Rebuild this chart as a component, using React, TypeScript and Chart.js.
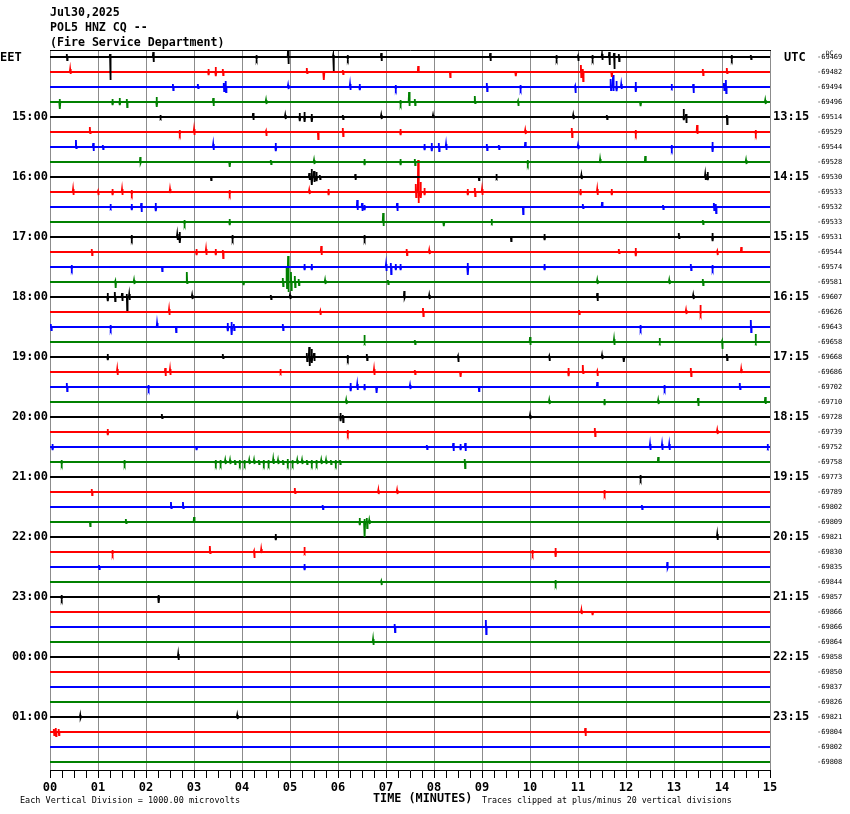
import React, { useEffect, useRef } from 'react';
import { Chart, registerables } from 'chart.js';
Chart.register(...registerables);

// ---- axis / label data ----
const MINUTE_LABELS = ['00','01','02','03','04','05','06','07','08','09','10','11','12','13','14','15'];
const LABEL_ROWS = [4, 8, 12, 16, 20, 24, 28, 32, 36, 40, 44];
const EET_LABELS = ['15:00','16:00','17:00','18:00','19:00','20:00','21:00','22:00','23:00','00:00','01:00'];
const UTC_LABELS = ['13:15','14:15','15:15','16:15','17:15','18:15','19:15','20:15','21:15','22:15','23:15'];
const DC_VALUES = [
  -69469, -69482, -69494, -69496, -69514, -69529, -69544, -69528,
  -69530, -69533, -69532, -69533, -69531, -69544, -69574, -69581,
  -69607, -69626, -69643, -69658, -69668, -69686, -69702, -69710,
  -69728, -69739, -69752, -69758, -69773, -69789, -69802, -69809,
  -69821, -69830, -69835, -69844, -69857, -69866, -69866, -69864,
  -69858, -69850, -69837, -69826, -69821, -69804, -69802, -69808,
];
const TRACE_COLORS = ['#000000', '#ff0000', '#0000ff', '#008000'];
const ROW_UNITS = 15; // vertical units between successive trace baselines

// ---- trace events: [minute, amplitude up, amplitude down] per row, grouped per hour ----
type Ev = [number, number, number];
const HOUR_14: Ev[][] = [
  [[0.35,3,3],[1.25,3,23],[2.15,5,5],[4.3,2,2],[4.96,9,7],[5.9,2,14],[6.2,2,2],[6.9,4,4],[9.17,4,4],[10.55,2,2],[11.0,1,4],[11.3,2,2],[11.5,3,3],[11.65,5,8],[11.75,4,12],[11.85,3,4],[14.2,2,2],[14.6,2,2]],
  [[0.42,3,2],[3.3,3,3],[3.45,5,4],[3.6,3,3],[5.35,4,1],[5.7,1,8],[6.1,2,2],[7.67,6,1],[8.33,1,5],[9.7,1,4],[11.06,7,5],[11.1,3,9],[11.7,1,5],[13.6,3,3],[14.1,4,1]],
  [[2.56,3,3],[3.08,3,1],[3.62,4,4],[3.66,6,5],[4.96,2,2],[6.25,3,3],[6.45,3,3],[7.2,2,2],[9.1,4,4],[9.8,2,2],[10.94,1,6],[11.68,8,3],[11.73,12,4],[11.8,6,4],[11.9,3,2],[12.2,5,5],[12.95,3,1],[13.4,3,6],[14.04,4,3],[14.08,7,6]],
  [[0.2,3,7],[1.3,3,3],[1.45,4,3],[1.6,3,5],[2.22,5,5],[3.4,4,4],[4.5,2,2],[7.3,2,2],[7.48,10,4],[7.6,3,3],[8.85,6,1],[9.75,1,4],[12.3,1,4],[14.9,2,2]],
];
const HOUR_15: Ev[][] = [
  [[2.3,2,1],[4.23,4,3],[4.9,2,2],[5.2,4,4],[5.3,5,5],[5.45,3,5],[6.1,2,2],[6.9,2,2],[7.98,2,1],[10.9,2,2],[11.6,2,2],[13.2,8,3],[13.25,3,6],[14.1,2,7]],
  [[0.83,5,1],[2.7,2,2],[3.0,3,3],[4.5,1,4],[5.58,1,7],[6.1,4,4],[7.3,3,3],[9.9,2,2],[10.87,4,5],[12.2,2,2],[13.48,7,2],[14.7,2,2]],
  [[0.54,7,1],[0.9,4,4],[1.1,2,2],[3.4,3,3],[4.7,4,4],[7.8,3,3],[7.95,4,4],[8.1,4,4],[8.25,3,3],[9.1,3,3],[9.35,2,2],[9.9,5,1],[11.0,2,2],[12.95,2,2],[13.8,5,5]],
  [[1.88,5,1],[3.74,1,5],[4.6,2,2],[5.5,2,2],[6.55,3,3],[7.3,3,3],[7.6,3,3],[9.95,2,2],[11.46,3,1],[12.4,6,1],[14.5,2,2]],
];
const HOUR_16: Ev[][] = [
  [[3.35,1,3],[5.4,4,3],[5.45,8,8],[5.5,6,5],[5.55,5,4],[5.62,2,2],[6.36,3,3],[8.93,1,3],[9.3,3,1],[11.07,2,2],[13.65,3,3],[13.7,5,3]],
  [[0.48,3,3],[1.0,1,3],[1.3,3,3],[1.5,3,3],[1.7,2,2],[2.5,3,1],[3.74,2,2],[5.4,2,2],[5.8,3,3],[7.62,8,5],[7.67,32,11],[7.72,10,6],[7.8,4,3],[8.7,3,3],[8.85,4,4],[9.0,3,3],[11.05,3,3],[11.4,3,3],[11.7,3,3]],
  [[1.26,3,1],[1.7,3,3],[1.9,4,5],[2.2,4,4],[6.4,7,3],[6.5,4,4],[6.55,2,3],[7.23,4,4],[9.85,1,7],[11.1,3,1],[11.5,5,1],[12.77,2,2],[13.83,4,3],[13.87,3,6]],
  [[2.8,2,2],[3.74,3,3],[6.94,9,4],[8.2,1,4],[9.2,3,1],[13.6,2,2]],
];
const HOUR_17: Ev[][] = [
  [[1.7,2,2],[2.65,3,3],[2.7,5,6],[3.8,2,2],[6.55,2,2],[9.6,1,4],[10.3,3,3],[13.1,4,1],[13.8,4,4]],
  [[0.87,3,3],[3.05,3,3],[3.25,3,3],[3.45,3,3],[3.6,2,6],[5.65,6,3],[7.43,3,3],[7.9,2,2],[11.85,3,1],[12.2,4,4],[13.9,1,3],[14.4,5,1]],
  [[0.45,2,2],[2.33,1,4],[5.3,3,3],[5.45,3,3],[7.0,3,4],[7.1,4,7],[7.2,3,3],[7.3,3,3],[8.7,4,8],[10.3,3,3],[13.35,3,3],[13.8,2,2]],
  [[1.36,1,6],[1.75,2,2],[2.85,10,1],[4.03,1,3],[4.85,4,4],[4.93,14,6],[4.96,26,10],[5.02,10,8],[5.1,6,5],[5.18,3,3],[5.73,2,2],[7.04,2,2],[11.4,2,2],[12.9,2,2],[13.6,3,3]],
];
const HOUR_18: Ev[][] = [
  [[1.2,4,4],[1.35,5,4],[1.5,4,4],[1.6,3,13],[1.65,3,3],[2.96,2,2],[4.6,2,2],[5.0,2,2],[7.38,6,1],[7.9,2,2],[11.4,4,4],[13.4,2,2]],
  [[2.48,3,3],[5.63,1,3],[7.77,4,4],[11.02,2,2],[13.25,2,2],[13.55,7,2]],
  [[0.02,3,3],[1.26,2,2],[2.23,4,1],[2.62,1,5],[3.7,4,4],[3.78,5,8],[3.83,3,3],[4.85,3,3],[12.3,2,2],[14.6,7,5]],
  [[6.55,7,1],[7.6,2,2],[10.0,5,3],[11.75,3,3],[12.7,4,1],[14.0,1,7],[14.7,8,1]],
];
const HOUR_19: Ev[][] = [
  [[1.2,3,3],[3.6,3,1],[5.35,4,4],[5.4,10,9],[5.45,8,6],[5.5,4,4],[6.2,2,2],[6.6,3,3],[8.5,1,5],[10.4,1,4],[11.5,2,2],[11.95,1,5],[14.1,3,3]],
  [[1.4,3,3],[2.4,4,4],[2.5,3,3],[4.8,3,1],[6.75,3,3],[7.6,2,2],[8.55,1,5],[10.8,4,4],[11.1,7,1],[11.4,1,4],[13.35,4,4],[14.4,3,1]],
  [[0.35,4,4],[2.05,2,2],[6.26,4,4],[6.4,3,3],[6.55,3,3],[6.8,1,6],[7.5,2,2],[8.93,1,4],[11.4,5,1],[12.8,2,2],[14.37,4,2]],
  [[6.17,2,2],[10.4,2,2],[11.55,3,3],[12.67,2,2],[13.5,4,4],[14.9,5,2]],
];
const HOUR_20: Ev[][] = [
  [[2.33,3,1],[6.05,4,4],[6.1,2,5],[10.0,2,2]],
  [[1.2,3,3],[6.2,2,2],[11.35,4,4],[13.9,2,2]],
  [[0.05,3,3],[3.05,1,3],[7.85,2,2],[8.4,4,4],[8.55,3,3],[8.65,4,4],[12.5,3,3],[12.75,3,3],[12.9,3,3],[14.95,3,1]],
  [[0.24,2,2],[1.55,2,2],[3.45,2,2],[3.55,2,2],[3.65,2,2],[3.75,2,2],[3.85,2,2],[3.95,2,2],[4.05,2,2],[4.15,2,2],[4.25,2,2],[4.35,2,2],[4.45,2,2],[4.55,2,2],[4.65,3,2],[4.75,2,2],[4.85,2,2],[4.95,3,2],[5.05,2,2],[5.15,2,2],[5.25,2,2],[5.35,2,2],[5.45,2,2],[5.55,2,2],[5.65,2,2],[5.75,2,2],[5.85,2,2],[5.95,2,2],[6.04,2,2],[8.64,3,6],[12.67,5,1]],
];
const HOUR_21: Ev[][] = [
  [[12.3,2,2]],
  [[0.87,3,3],[5.1,4,1],[6.84,2,2],[7.23,2,2],[11.55,2,2]],
  [[2.52,5,1],[2.77,5,1],[5.68,2,2],[12.33,2,2]],
  [[0.83,1,4],[1.58,3,1],[3.0,5,1],[6.45,4,3],[6.55,3,15],[6.6,4,6],[6.65,2,2]],
];
const HOUR_22: Ev[][] = [
  [[4.7,3,3],[13.9,3,3]],
  [[1.3,2,2],[3.33,6,1],[4.25,1,6],[4.4,3,1],[5.3,5,1],[10.05,2,2],[10.53,4,5]],
  [[1.02,2,2],[5.3,3,3],[12.86,5,1]],
  [[6.9,1,3],[10.53,2,2]],
];
const HOUR_23: Ev[][] = [
  [[0.24,2,2],[2.26,2,6]],
  [[11.07,2,2],[11.3,1,3]],
  [[7.18,3,5],[9.08,7,7]],
  [[6.73,3,3]],
];
const HOUR_00: Ev[][] = [
  [[2.67,3,3]],
  [],
  [],
  [],
];
const HOUR_01: Ev[][] = [
  [[0.63,2,1],[3.9,2,2]],
  [[0.08,3,3],[0.12,4,4],[0.18,3,3],[11.15,4,4]],
  [],
  [],
];

const ROWS: Ev[][] = [
  ...HOUR_14, ...HOUR_15, ...HOUR_16, ...HOUR_17, ...HOUR_18, ...HOUR_19,
  ...HOUR_20, ...HOUR_21, ...HOUR_22, ...HOUR_23, ...HOUR_00, ...HOUR_01,
];

const MONO = "'DejaVu Sans Mono', 'Liberation Mono', monospace";

function buildDatasets() {
  return ROWS.map((events, i) => {
    const base = i * ROW_UNITS;
    const pts: { x: number; y: number }[] = [{ x: 0, y: base }];
    const sorted = [...events].sort((a, b) => a[0] - b[0]);
    for (const [t, up, down] of sorted) {
      pts.push({ x: t - 0.008, y: base });
      pts.push({ x: t, y: base - up });
      pts.push({ x: t + 0.008, y: base + down });
      pts.push({ x: t + 0.016, y: base });
    }
    pts.push({ x: 15, y: base });
    return {
      data: pts,
      borderColor: TRACE_COLORS[i % 4],
      borderWidth: 1.8,
      pointRadius: 0,
      tension: 0,
      fill: false,
    };
  });
}

const Y_MIN = -7;
const Y_MAX = (ROWS.length - 1) * ROW_UNITS + 8;

export default function App() {
  const canvasRef = useRef<HTMLCanvasElement | null>(null);

  useEffect(() => {
    if (!canvasRef.current) return;
    const rowTicks = LABEL_ROWS.map((r) => ({ value: r * ROW_UNITS }));
    const dcTicks = DC_VALUES.map((_, i) => ({ value: i * ROW_UNITS }));
    const xTicks = Array.from({ length: 61 }, (_, i) => ({ value: i * 0.25 }));
    const chart = new Chart(canvasRef.current, {
      type: 'line',
      data: { datasets: buildDatasets() as any },
      options: {
        animation: false,
        responsive: false,
        devicePixelRatio: 1,
        parsing: false as any,
        normalized: true,
        layout: { padding: { top: 50, left: 0, right: 0, bottom: 0 } },
        plugins: { legend: { display: false }, title: { display: false }, tooltip: { enabled: false } },
        scales: {
          x: {
            type: 'linear',
            position: 'bottom',
            min: 0,
            max: 15,
            afterBuildTicks: (s: any) => { s.ticks = xTicks.map((t) => ({ ...t })); },
            afterFit: (s: any) => { s.height = 44; },
            grid: {
              color: (ctx: any) => (ctx.tick && Number.isInteger(ctx.tick.value) ? '#8c8c8c' : 'rgba(0,0,0,0)'),
              tickColor: '#000000',
              tickLength: 8,
              lineWidth: 1,
            },
            border: { display: true, color: '#000000', width: 1 },
            ticks: {
              autoSkip: false,
              maxRotation: 0,
              padding: 3,
              color: '#000000',
              font: { family: MONO, size: 12, weight: 'bold' },
              callback: (v: any) => (Number.isInteger(v) ? MINUTE_LABELS[v] : ''),
            },
          },
          xTop: {
            type: 'linear',
            position: 'top',
            min: 0,
            max: 15,
            afterFit: (s: any) => { s.height = 0; },
            grid: { display: false, drawTicks: false },
            ticks: { display: false },
            border: { display: true, color: '#000000', width: 1 },
          },
          y: {
            type: 'linear',
            position: 'left',
            min: Y_MIN,
            max: Y_MAX,
            reverse: true,
            afterBuildTicks: (s: any) => { s.ticks = rowTicks.map((t) => ({ ...t })); },
            afterFit: (s: any) => { s.width = 50; },
            grid: { display: false, drawTicks: false },
            border: { display: false },
            ticks: {
              autoSkip: false,
              padding: 2,
              color: '#000000',
              font: { family: MONO, size: 12, weight: 'bold' },
              callback: (_v: any, i: number) => EET_LABELS[i],
            },
          },
          yUtc: {
            type: 'linear',
            position: 'right',
            weight: 1,
            min: Y_MIN,
            max: Y_MAX,
            reverse: true,
            afterBuildTicks: (s: any) => { s.ticks = rowTicks.map((t) => ({ ...t })); },
            afterFit: (s: any) => { s.width = 44; },
            grid: { display: false, drawTicks: false },
            border: { display: false },
            ticks: {
              autoSkip: false,
              padding: 3,
              color: '#000000',
              font: { family: MONO, size: 12, weight: 'bold' },
              callback: (_v: any, i: number) => UTC_LABELS[i],
            },
          },
          yDc: {
            type: 'linear',
            position: 'right',
            weight: 2,
            min: Y_MIN,
            max: Y_MAX,
            reverse: true,
            afterBuildTicks: (s: any) => { s.ticks = dcTicks.map((t) => ({ ...t })); },
            afterFit: (s: any) => { s.width = 36; },
            grid: { display: false, drawTicks: false },
            border: { display: false },
            ticks: {
              autoSkip: false,
              padding: 3,
              color: '#000000',
              font: { family: MONO, size: 7 },
              callback: (_v: any, i: number) => String(DC_VALUES[i]),
            },
          },
        },
      } as any,
    });
    return () => chart.destroy();
  }, []);

  const txt = (left: number, centerY: number, size: number, bold: boolean): React.CSSProperties => ({
    position: 'absolute',
    left,
    top: centerY - size / 2,
    fontFamily: MONO,
    fontSize: size,
    lineHeight: `${size}px`,
    fontWeight: bold ? 'bold' : 'normal',
    whiteSpace: 'pre',
    color: '#000',
  });

  return (
    <div style={{ position: 'absolute', left: 0, top: 0, width: 850, height: 814, background: '#fff', overflow: 'hidden' }}>
      <canvas ref={canvasRef} width={850} height={814} style={{ position: 'absolute', left: 0, top: 0, width: 850, height: 814 }} />
      <div style={txt(50, 12.5, 11.6, true)}>Jul30,2025</div>
      <div style={txt(50, 27.5, 11.6, true)}>POL5 HNZ CQ --</div>
      <div style={txt(50, 42.5, 11.6, true)}>(Fire Service Department)</div>
      <div style={txt(0, 57, 12, true)}>EET</div>
      <div style={txt(784, 57, 12, true)}>UTC</div>
      <div style={txt(826, 53, 6, false)}>DC</div>
      <div style={txt(20, 800, 8.5, false)}>Each Vertical Division = 1000.00 microvolts</div>
      <div style={txt(373, 799, 11.8, true)}>TIME (MINUTES)</div>
      <div style={txt(482, 800, 8.3, false)}>Traces clipped at plus/minus 20 vertical divisions</div>
    </div>
  );
}
